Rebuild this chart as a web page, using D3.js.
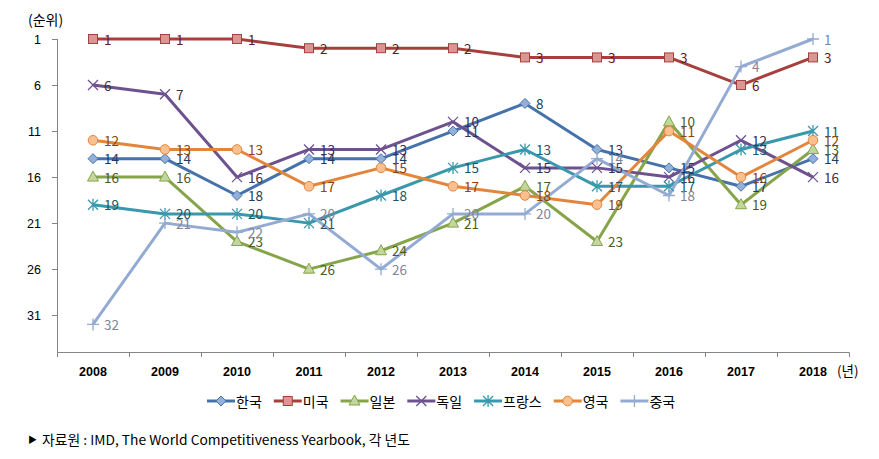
<!DOCTYPE html>
<html><head><meta charset="utf-8">
<script src="https://cdn.jsdelivr.net/npm/d3@7"></script>
<style>body{margin:0;background:#fff}svg{display:block}</style>
</head><body>
<svg id="c" width="879" height="459"></svg>
<script>
const years = ["2008","2009","2010","2011","2012","2013","2014","2015","2016","2017","2018"];
const korea   = [14,14,18,14,14,11,8,13,15,17,14];
const usa     = [1,1,1,2,2,2,3,3,3,6,3];
const japan   = [16,16,23,26,24,21,17,23,10,19,13];
const germany = [6,7,16,13,13,10,15,15,16,12,16];
const france  = [19,20,20,21,18,15,13,17,17,13,11];
const uk      = [12,13,13,17,15,17,18,19,11,16,12];
const china   = [32,21,22,20,26,20,20,14,18,4,1];
const yTicks  = [1,6,11,16,21,26,31];
const seriesNames = ["한국","미국","일본","독일","프랑스","영국","중국"];

const series = [
  {name:seriesNames[0], v:korea,   line:"#4672ac", fill:"#93b0d8", mark:"diamond",  lab:"#1f3a63"},
  {name:seriesNames[1], v:usa,     line:"#a6403d", fill:"#d99694", mark:"square",   lab:"#5e2120"},
  {name:seriesNames[2], v:japan,   line:"#86a44a", fill:"#c3d69b", mark:"triangle", lab:"#4a5c24"},
  {name:seriesNames[3], v:germany, line:"#6d528f", fill:"none",    mark:"x",        lab:"#3b2e50"},
  {name:seriesNames[4], v:france,  line:"#3a98ac", fill:"none",    mark:"star",     lab:"#1e5463"},
  {name:seriesNames[5], v:uk,      line:"#e3853b", fill:"#fac090", mark:"circle",   lab:"#8f440a"},
  {name:seriesNames[6], v:china,   line:"#93abd3", fill:"none",    mark:"plus",     lab:"#7f8699"}
];

const svg = d3.select("#c");
const FONT = "'Noto Sans CJK KR','Noto Sans',sans-serif";
const x = d3.scaleBand().domain(years).range([57,849]);
const y = d3.scaleLinear().domain([1,35]).range([39,352]);
const cx = d => x(d) + x.bandwidth()/2;

// axes
const ax = svg.append("g").attr("stroke","#868686").attr("stroke-width",1);
ax.append("line").attr("x1",57.5).attr("x2",57.5).attr("y1",y(1)).attr("y2",352.5);
yTicks.forEach(t=>{
  ax.append("line").attr("x1",52).attr("x2",57.5).attr("y1",Math.round(y(t))+0.5).attr("y2",Math.round(y(t))+0.5);
});
ax.append("line").attr("x1",57).attr("x2",849.5).attr("y1",352.5).attr("y2",352.5);
years.concat(["end"]).forEach((yr,i)=>{
  const xx = (yr==="end"? 849 : x(yr)) + 0.5;
  ax.append("line").attr("x1",xx).attr("x2",xx).attr("y1",352.5).attr("y2",357);
});
svg.append("g").selectAll("text").data(yTicks).join("text")
  .attr("x",41).attr("y",t=>y(t)+5).attr("text-anchor","end")
  .attr("font-family","'Liberation Sans',Arial,sans-serif").attr("font-size",12.5).attr("fill","#000")
  .text(d=>d);
svg.append("g").selectAll("text").data(years).join("text")
  .attr("x",d=>cx(d)).attr("y",375.5).attr("text-anchor","middle")
  .attr("font-family","'Liberation Sans',Arial,sans-serif").attr("font-weight","bold").attr("font-size",12.5).attr("fill","#000")
  .text(d=>d);
svg.append("text").attr("x",28).attr("y",25).attr("font-family",FONT).attr("font-size",14).attr("fill","#000").text("(순위)");
svg.append("text").attr("x",837).attr("y",376).attr("font-family",FONT).attr("font-size",13.5).attr("fill","#000").text("(년)");

function drawMarker(g, type, px, py, s){
  if(type==="diamond"){
    g.append("path").attr("d",`M${px},${py-5}L${px+5},${py}L${px},${py+5}L${px-5},${py}Z`)
      .attr("fill",s.fill).attr("stroke",s.line).attr("stroke-width",1);
  } else if(type==="square"){
    g.append("rect").attr("x",px-4.5).attr("y",py-4.5).attr("width",9).attr("height",9)
      .attr("fill",s.fill).attr("stroke",s.line).attr("stroke-width",1);
  } else if(type==="triangle"){
    g.append("path").attr("d",`M${px},${py-6}L${px+5.5},${py+4}L${px-5.5},${py+4}Z`)
      .attr("fill",s.fill).attr("stroke",s.line).attr("stroke-width",1);
  } else if(type==="circle"){
    g.append("circle").attr("cx",px).attr("cy",py).attr("r",4.8)
      .attr("fill",s.fill).attr("stroke",s.line).attr("stroke-width",1);
  } else if(type==="x"){
    g.append("path").attr("d",`M${px-5},${py-5}L${px+5},${py+5}M${px-5},${py+5}L${px+5},${py-5}`)
      .attr("stroke",s.line).attr("stroke-width",1.3).attr("fill","none");
  } else if(type==="star"){
    g.append("path").attr("d",`M${px-5},${py-5}L${px+5},${py+5}M${px-5},${py+5}L${px+5},${py-5}M${px},${py-6}L${px},${py+6}`)
      .attr("stroke",s.line).attr("stroke-width",1.3).attr("fill","none");
  } else if(type==="plus"){
    g.append("path").attr("d",`M${px-6},${py}L${px+6},${py}M${px},${py-6}L${px},${py+6}`)
      .attr("stroke",s.line).attr("stroke-width",1.3).attr("fill","none");
  }
}

const line = d3.line().x((d,i)=>cx(years[i])).y(d=>y(d));
const gl = svg.append("g");
series.forEach(s=>{
  gl.append("path").attr("d",line(s.v)).attr("fill","none").attr("stroke",s.line)
    .attr("stroke-width",3).attr("stroke-linejoin","round");
});
const gm = svg.append("g");
series.forEach(s=>{ s.v.forEach((v,i)=>drawMarker(gm, s.mark, cx(years[i]), y(v), s)); });
const gt = svg.append("g");
series.forEach(s=>{
  gt.selectAll(null).data(s.v).join("text")
    .attr("x",(d,i)=>cx(years[i])+11).attr("y",d=>y(d)+5.5)
    .attr("font-family",FONT).attr("font-size",13.5).attr("fill",s.lab)
    .text(d=>d);
});

// legend
const lg = svg.append("g");
let lx = 207;
const ly = 401;
series.forEach(s=>{
  lg.append("line").attr("x1",lx).attr("x2",lx+28).attr("y1",ly).attr("y2",ly)
    .attr("stroke",s.line).attr("stroke-width",3);
  drawMarker(lg, s.mark, lx+14, ly, s);
  const t = lg.append("text").attr("x",lx+29).attr("y",ly+5.5)
    .attr("font-family",FONT).attr("font-size",14).attr("fill","#000").text(s.name);
  const w = t.node().getComputedTextLength();
  lx = lx + 29 + w + 12;
});

// source
svg.append("text").attr("x",28).attr("y",443).attr("font-family",FONT).attr("font-size",9).attr("fill","#000").text("▶");
svg.append("text").attr("x",42).attr("y",444.5).attr("font-family",FONT).attr("font-size",13.5).attr("fill","#000")
  .attr("textLength",368).attr("lengthAdjust","spacingAndGlyphs")
  .text("자료원 : IMD, The World Competitiveness Yearbook, 각 년도");
</script>
</body></html>
